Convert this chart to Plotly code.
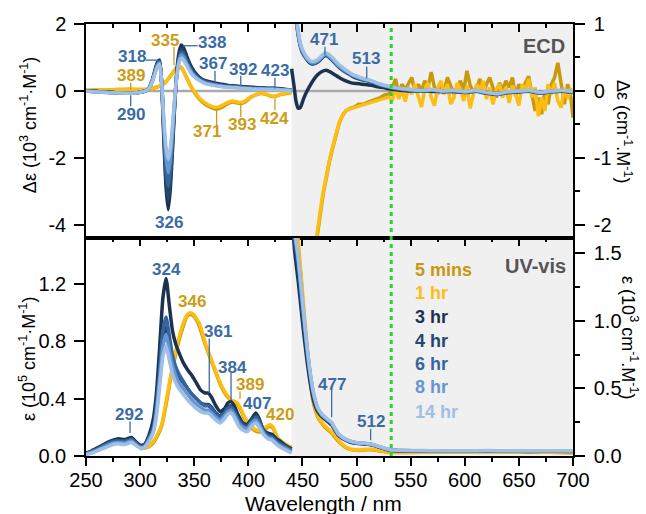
import plotly.graph_objects as go

FONT = "Liberation Sans, Arial, sans-serif"

# ---------------- series names & colours ----------------
series_names = ["5 mins", "1 hr", "3 hr", "4 hr", "6 hr", "8 hr", "14 hr"]
series_colors = ["#C9980E", "#FDBE12", "#1B3350", "#24476F", "#3565A0", "#6596D0", "#9EBFE6"]
BLUE_LBL = "#3A6BA5"
GOLD_LBL = "#CE9C14"

# ---------------- ECD, 250-440 nm (10^3 units, left axis) ----------------
ecd_wl_l = [250, 260, 270, 280, 290, 300, 305, 308, 311, 314, 316, 318, 320, 322, 324, 326, 328, 330, 332, 334,
            336, 338, 340, 343, 346, 350, 355, 360, 365, 370, 375, 380, 385, 390, 393, 397, 402, 407, 412, 417,
            421, 424, 428, 433, 440]
ecd_l_5min = [0.02, 0.03, 0.03, 0.04, 0.05, 0.04, 0.04, 0.05, 0.07, 0.1, 0.12, 0.14, 0.18, 0.22, 0.28, 0.36, 0.44, 0.53, 0.62, 0.7,
              0.74, 0.7, 0.6, 0.4, 0.19, -0.04, -0.25, -0.4, -0.49, -0.55, -0.5, -0.4, -0.33, -0.36, -0.38, -0.33, -0.2, -0.12, -0.08, -0.11,
              -0.16, -0.17, -0.13, -0.09, -0.05]
ecd_l_1hr = [0.02, 0.03, 0.03, 0.04, 0.05, 0.04, 0.04, 0.05, 0.07, 0.1, 0.12, 0.14, 0.18, 0.22, 0.28, 0.36, 0.44, 0.53, 0.62, 0.7,
             0.74, 0.7, 0.6, 0.4, 0.2, -0.02, -0.22, -0.36, -0.45, -0.5, -0.45, -0.36, -0.3, -0.33, -0.35, -0.3, -0.18, -0.11, -0.07, -0.1,
             -0.15, -0.16, -0.12, -0.08, -0.04]
ecd_l_3hr = [0.0, -0.02, -0.04, -0.06, -0.07, -0.04, 0.0, 0.08, 0.3, 0.65, 0.85, 0.92, 0.2, -1.5, -2.9, -3.55, -2.9, -1.7, -0.4, 0.6,
             1.15, 1.37, 1.3, 1.05, 0.8, 0.58, 0.4, 0.31, 0.27, 0.23, 0.2, 0.17, 0.15, 0.14, 0.13, 0.12, 0.11, 0.1, 0.09, 0.08,
             0.08, 0.08, 0.07, 0.05, 0.03]
ecd_l_4hr = [0.0, -0.02, -0.04, -0.06, -0.07, -0.04, 0.0, 0.07, 0.28, 0.62, 0.82, 0.9, 0.2, -1.35, -2.65, -3.25, -2.65, -1.55, -0.35, 0.55,
             1.05, 1.25, 1.19, 0.96, 0.74, 0.53, 0.37, 0.29, 0.25, 0.21, 0.18, 0.16, 0.14, 0.13, 0.12, 0.11, 0.1, 0.09, 0.08, 0.07,
             0.07, 0.07, 0.06, 0.04, 0.02]
ecd_l_6hr = [0.0, -0.02, -0.04, -0.06, -0.07, -0.04, 0.0, 0.07, 0.27, 0.6, 0.8, 0.87, 0.2, -1.2, -2.35, -2.85, -2.35, -1.4, -0.3, 0.5,
             0.97, 1.15, 1.1, 0.89, 0.68, 0.49, 0.35, 0.27, 0.22, 0.19, 0.16, 0.14, 0.12, 0.11, 0.1, 0.09, 0.08, 0.07, 0.07, 0.06,
             0.06, 0.06, 0.05, 0.03, 0.02]
ecd_l_8hr = [0.0, -0.03, -0.05, -0.06, -0.07, -0.04, 0.0, 0.06, 0.26, 0.57, 0.76, 0.83, 0.2, -1.05, -2.0, -2.45, -2.0, -1.2, -0.25, 0.47,
             0.9, 1.07, 1.02, 0.82, 0.63, 0.45, 0.32, 0.24, 0.2, 0.17, 0.14, 0.12, 0.11, 0.1, 0.09, 0.08, 0.07, 0.06, 0.06, 0.05,
             0.05, 0.05, 0.04, 0.03, 0.01]
ecd_l_14hr = [0.0, -0.03, -0.05, -0.06, -0.07, -0.04, 0.0, 0.06, 0.25, 0.55, 0.72, 0.8, 0.2, -0.9, -1.7, -2.05, -1.7, -1.0, -0.2, 0.45,
              0.85, 0.98, 0.93, 0.76, 0.58, 0.42, 0.3, 0.22, 0.18, 0.15, 0.13, 0.11, 0.1, 0.09, 0.08, 0.07, 0.06, 0.05, 0.05, 0.04,
              0.04, 0.04, 0.03, 0.02, 0.01]

# ---------------- ECD, 440-700 nm (right axis) ----------------
ecd_wl_r_gold = [440, 445, 450, 455, 460, 463, 466, 469, 472, 475, 478, 481, 484, 487, 490, 494, 498, 502, 506, 510,
                 514, 518, 522, 526, 530] + list(range(533, 699, 3)) + [700]
ecd_r_5min = [-6.2, -5.2, -4.2, -3.3, -2.6, -2.2, -1.9, -1.56, -1.28, -1.05, -0.85, -0.64, -0.48, -0.37, -0.3, -0.26, -0.24, -0.2, -0.2, -0.17,
              -0.15, -0.13, -0.1, -0.06, -0.05,
              0.05, 0.18, -0.05, 0.1, 0.02, 0.12, 0.2, -0.02, 0.1, 0.0, 0.15, 0.05, 0.28, 0.05, -0.05, 0.1, 0.0, 0.2, 0.08, -0.05,
              0.05, 0.15, 0.0, 0.3, 0.08, -0.02, 0.05, 0.18, -0.05, 0.1, 0.2, 0.05, -0.1, 0.12, 0.02, 0.15, 0.05, 0.2, -0.08, 0.1,
              0.0, 0.12, 0.22, -0.05, -0.3, -0.1, -0.35, 0.0, -0.2, 0.1, 0.2, 0.42, 0.1, -0.2, 0.1, -0.1, -0.4]
ecd_r_1hr = [-6.0, -5.0, -4.0, -3.2, -2.55, -2.15, -1.85, -1.52, -1.25, -1.03, -0.83, -0.63, -0.47, -0.36, -0.3, -0.27, -0.25, -0.22, -0.21, -0.19,
             -0.17, -0.15, -0.12, -0.1, -0.09,
             -0.15, 0.05, -0.12, 0.02, -0.16, 0.06, -0.05, 0.1, -0.08, -0.24, 0.02, 0.12, -0.1, -0.22, 0.05, 0.15, -0.05, 0.1, -0.2, -0.1,
             0.12, 0.02, -0.15, 0.08, -0.26, -0.05, 0.1, -0.02, 0.15, -0.12, 0.05, -0.2, 0.02, 0.1, -0.1, 0.05, -0.18, 0.08, -0.05, -0.22,
             0.1, 0.0, 0.18, -0.1, 0.05, -0.38, -0.1, -0.3, 0.1, -0.05, 0.12, -0.15, -0.25, 0.05, -0.12, 0.02, 0.0]
ecd_wl_r_3hr = [440, 442, 444, 446, 448, 451, 454, 457, 460, 464, 468, 472, 476, 480, 485, 490, 495, 500, 505, 510,
                515, 520, 525, 530, 535, 540, 550, 560, 570, 580, 590, 600, 610, 620, 630, 640, 650, 660, 670, 680, 690, 700]
ecd_r_3hr = [0.33, 0.1, -0.15, -0.26, -0.25, -0.12, -0.01, 0.08, 0.16, 0.24, 0.29, 0.31, 0.28, 0.24, 0.19, 0.15, 0.12, 0.11, 0.1, 0.09,
             0.08, 0.06, 0.05, 0.03, 0.02, 0.01, 0.0, 0.01, -0.01, 0.0, -0.01, -0.02, 0.0, -0.02, -0.04, -0.02, -0.01, 0.0, -0.02, -0.01,
             0.0, -0.02]
ecd_wl_r_blue = [440, 442, 444, 446, 448, 450, 453, 456, 459, 462, 465, 468, 471, 474, 478, 482, 487, 492, 497, 502,
                 507, 512, 517, 522, 527, 532, 537, 542, 550, 560, 570, 580, 590, 600, 610, 620, 630, 640, 650, 660,
                 670, 680, 690, 700]
ecd_r_4hr = [2.35, 1.66, 1.13, 0.84, 0.67, 0.57, 0.49, 0.43, 0.4, 0.41, 0.44, 0.49, 0.53, 0.51, 0.45, 0.38, 0.31, 0.26, 0.21, 0.18,
             0.16, 0.14, 0.11, 0.085, 0.065, 0.045, 0.03, 0.02, 0.005, -0.005, 0.005, -0.015, -0.005, -0.025, -0.005, -0.035, -0.055, -0.025, -0.015, -0.005,
             -0.035, -0.015, -0.005, -0.025]
ecd_r_6hr = [2.4, 1.7, 1.15, 0.85, 0.68, 0.58, 0.5, 0.44, 0.41, 0.42, 0.45, 0.5, 0.54, 0.52, 0.46, 0.39, 0.32, 0.27, 0.22, 0.19,
             0.17, 0.15, 0.12, 0.09, 0.07, 0.05, 0.035, 0.025, 0.01, 0.0, 0.01, -0.01, 0.0, -0.02, 0.0, -0.03, -0.05, -0.02, -0.01, 0.0,
             -0.03, -0.01, 0.0, -0.02]
ecd_r_8hr = [2.45, 1.75, 1.18, 0.87, 0.7, 0.6, 0.51, 0.45, 0.42, 0.43, 0.46, 0.51, 0.55, 0.53, 0.47, 0.4, 0.33, 0.28, 0.23, 0.2,
             0.175, 0.155, 0.125, 0.095, 0.075, 0.055, 0.04, 0.03, 0.015, 0.005, 0.015, -0.005, 0.005, -0.015, 0.005, -0.025, -0.045, -0.015, -0.005, 0.005,
             -0.025, -0.005, 0.005, -0.015]
ecd_r_14hr = [2.5, 1.8, 1.2, 0.9, 0.72, 0.62, 0.53, 0.47, 0.44, 0.45, 0.48, 0.53, 0.57, 0.55, 0.49, 0.42, 0.35, 0.29, 0.24, 0.21,
              0.18, 0.16, 0.13, 0.1, 0.08, 0.06, 0.045, 0.035, 0.02, 0.01, 0.02, 0.0, 0.01, -0.01, 0.01, -0.02, -0.04, -0.01, 0.0, 0.01,
              -0.02, 0.0, 0.01, -0.01]

# ---------------- UV-vis, 250-440 nm (10^5 units, left axis) ----------------
uv_wl_l = [250, 255, 260, 265, 270, 275, 280, 285, 288, 292, 296, 300, 304, 308, 312, 315, 318, 321, 324, 327,
           330, 333, 336, 340, 344, 348, 352, 356, 360, 363, 366, 370, 374, 378, 381, 384, 387, 391, 395, 399,
           403, 407, 410, 414, 418, 422, 426, 430, 435, 440]
uv_l_3hr = [0.02, 0.035, 0.055, 0.075, 0.095, 0.11, 0.12, 0.115, 0.12, 0.13, 0.1, 0.075, 0.08, 0.14, 0.25, 0.43, 0.75, 1.1, 1.24, 1.05,
            0.87, 0.78, 0.72, 0.65, 0.6, 0.56, 0.51, 0.46, 0.44, 0.44, 0.41, 0.35, 0.31, 0.33, 0.37, 0.38, 0.35, 0.28, 0.23, 0.22,
            0.26, 0.3, 0.26, 0.18, 0.16, 0.15, 0.12, 0.1, 0.07, 0.05]
uv_l_4hr = [0.018, 0.033, 0.05, 0.07, 0.09, 0.105, 0.11, 0.105, 0.11, 0.12, 0.095, 0.07, 0.075, 0.13, 0.2, 0.33, 0.56, 0.8, 0.9, 0.78,
            0.66, 0.6, 0.55, 0.51, 0.47, 0.43, 0.4, 0.37, 0.36, 0.36, 0.34, 0.3, 0.28, 0.31, 0.34, 0.35, 0.32, 0.26, 0.22, 0.21,
            0.25, 0.28, 0.25, 0.18, 0.15, 0.14, 0.11, 0.09, 0.06, 0.045]
uv_l_6hr = [0.015, 0.03, 0.045, 0.065, 0.085, 0.1, 0.105, 0.1, 0.105, 0.115, 0.09, 0.065, 0.07, 0.12, 0.19, 0.34, 0.6, 0.87, 0.97, 0.84,
            0.7, 0.62, 0.57, 0.52, 0.47, 0.43, 0.4, 0.37, 0.35, 0.35, 0.33, 0.29, 0.27, 0.3, 0.33, 0.34, 0.31, 0.25, 0.21, 0.2,
            0.24, 0.27, 0.24, 0.17, 0.14, 0.13, 0.1, 0.08, 0.06, 0.04]
uv_l_8hr = [0.012, 0.025, 0.04, 0.058, 0.075, 0.09, 0.095, 0.09, 0.095, 0.105, 0.08, 0.06, 0.065, 0.11, 0.17, 0.3, 0.53, 0.76, 0.85, 0.74,
            0.63, 0.56, 0.51, 0.47, 0.43, 0.39, 0.36, 0.34, 0.32, 0.32, 0.3, 0.27, 0.25, 0.28, 0.31, 0.32, 0.29, 0.23, 0.2, 0.19,
            0.23, 0.25, 0.22, 0.16, 0.13, 0.12, 0.09, 0.07, 0.05, 0.03]
uv_l_14hr = [0.01, 0.02, 0.035, 0.05, 0.065, 0.08, 0.085, 0.08, 0.085, 0.095, 0.075, 0.055, 0.06, 0.1, 0.16, 0.27, 0.48, 0.69, 0.77, 0.67,
             0.57, 0.51, 0.47, 0.43, 0.39, 0.36, 0.33, 0.31, 0.3, 0.3, 0.28, 0.25, 0.23, 0.26, 0.29, 0.3, 0.27, 0.21, 0.18, 0.17,
             0.21, 0.23, 0.2, 0.15, 0.12, 0.11, 0.08, 0.06, 0.04, 0.02]
uv_wl_l_gold = [300, 304, 308, 312, 316, 320, 324, 328, 332, 336, 340, 343, 346, 349, 352, 355, 358, 361, 364, 367,
                370, 373, 376, 380, 384, 387, 390, 393, 396, 400, 404, 408, 412, 416, 420, 423, 427, 431, 435, 440]
uv_l_5min = [0.05, 0.055, 0.065, 0.09, 0.14, 0.21, 0.36, 0.53, 0.68, 0.81, 0.91, 0.97, 0.99, 0.98, 0.95, 0.9, 0.83, 0.76, 0.7, 0.64,
             0.58, 0.52, 0.47, 0.42, 0.39, 0.38, 0.36, 0.32, 0.27, 0.22, 0.19, 0.17, 0.17, 0.19, 0.21, 0.19, 0.12, 0.09, 0.07, 0.05]
uv_l_1hr = [0.05, 0.06, 0.07, 0.1, 0.15, 0.22, 0.38, 0.55, 0.7, 0.83, 0.93, 0.98, 1.0, 0.99, 0.96, 0.92, 0.85, 0.77, 0.71, 0.65,
            0.59, 0.53, 0.48, 0.43, 0.39, 0.38, 0.37, 0.33, 0.28, 0.23, 0.2, 0.18, 0.18, 0.2, 0.22, 0.2, 0.13, 0.1, 0.08, 0.06]

# ---------------- UV-vis, 440-700 nm (10^3 units, right axis) ----------------
uv_wl_r = [440, 443, 446, 448, 451, 454, 457, 460, 464, 468, 471, 474, 477, 480, 483, 487, 491, 495, 500, 505,
           510, 514, 518, 522, 526, 531, 540, 560, 580, 600, 620, 640, 660, 680, 700]
uv_r_5min = [2.2, 1.8, 1.55, 1.38, 1.08, 0.8, 0.57, 0.4, 0.29, 0.24, 0.21, 0.19, 0.17, 0.14, 0.11, 0.08, 0.058, 0.047, 0.042, 0.042,
             0.046, 0.046, 0.042, 0.037, 0.032, 0.028, 0.026, 0.027, 0.029, 0.03, 0.032, 0.03, 0.029, 0.027, 0.024]
uv_r_1hr = [2.3, 1.85, 1.6, 1.42, 1.12, 0.84, 0.6, 0.42, 0.3, 0.25, 0.22, 0.2, 0.18, 0.15, 0.12, 0.085, 0.062, 0.05, 0.045, 0.045,
            0.05, 0.05, 0.045, 0.04, 0.035, 0.03, 0.028, 0.028, 0.03, 0.03, 0.031, 0.03, 0.03, 0.028, 0.025]
uv_r_3hr = [1.8, 1.5, 1.3, 1.15, 0.92, 0.72, 0.55, 0.42, 0.33, 0.29, 0.27, 0.25, 0.23, 0.19, 0.155, 0.13, 0.113, 0.1, 0.094, 0.09,
            0.087, 0.082, 0.073, 0.063, 0.053, 0.043, 0.038, 0.036, 0.035, 0.035, 0.036, 0.035, 0.034, 0.035, 0.034]
uv_r_4hr = [1.85, 1.56, 1.38, 1.22, 0.98, 0.77, 0.59, 0.45, 0.345, 0.3, 0.278, 0.258, 0.238, 0.198, 0.16, 0.133, 0.116, 0.103, 0.096, 0.093,
            0.089, 0.084, 0.075, 0.065, 0.054, 0.044, 0.039, 0.037, 0.036, 0.036, 0.037, 0.036, 0.035, 0.036, 0.035]
uv_r_6hr = [1.9, 1.62, 1.44, 1.28, 1.03, 0.8, 0.61, 0.46, 0.35, 0.3, 0.28, 0.26, 0.24, 0.2, 0.16, 0.135, 0.117, 0.105, 0.097, 0.094,
            0.09, 0.085, 0.076, 0.066, 0.055, 0.045, 0.04, 0.038, 0.037, 0.037, 0.038, 0.037, 0.036, 0.037, 0.036]
uv_r_8hr = [1.92, 1.64, 1.46, 1.3, 1.05, 0.82, 0.62, 0.47, 0.355, 0.305, 0.284, 0.264, 0.244, 0.204, 0.163, 0.137, 0.119, 0.107, 0.098, 0.095,
            0.091, 0.086, 0.077, 0.067, 0.056, 0.046, 0.041, 0.039, 0.038, 0.038, 0.039, 0.038, 0.037, 0.038, 0.037]
uv_r_14hr = [1.95, 1.66, 1.48, 1.32, 1.07, 0.83, 0.63, 0.48, 0.36, 0.31, 0.288, 0.268, 0.248, 0.207, 0.166, 0.139, 0.12, 0.108, 0.099, 0.096,
             0.092, 0.087, 0.078, 0.068, 0.057, 0.047, 0.042, 0.04, 0.039, 0.039, 0.04, 0.039, 0.038, 0.039, 0.038]

# ---------------- peak labels ----------------
ecd_labels = [  # text, x(nm), y(left axis), colour, leader (x0, y0, x1, y1) or None
    ("318", 292.2, 1.02, BLUE_LBL, (305.4, 0.92, 316.5, 0.92)),
    ("335", 323.0, 1.52, GOLD_LBL, (331.3, 1.31, 331.3, 0.77)),
    ("338", 366.2, 1.45, BLUE_LBL, (339.6, 1.35, 353.2, 1.35)),
    ("367", 367.6, 0.82, BLUE_LBL, (369.2, 0.60, 369.2, 0.29)),
    ("392", 395.4, 0.64, BLUE_LBL, (393.0, 0.45, 393.0, 0.14)),
    ("423", 424.6, 0.60, BLUE_LBL, (424.6, 0.39, 424.6, 0.07)),
    ("389", 291.3, 0.47, GOLD_LBL, (291.3, 0.24, 291.3, 0.04)),
    ("290", 291.3, -0.72, BLUE_LBL, (291.3, -0.13, 291.3, -0.46)),
    ("326", 327.0, -3.94, BLUE_LBL, None),
    ("371", 361.5, -1.22, GOLD_LBL, (370.7, -0.57, 370.7, -1.02)),
    ("393", 394.6, -1.02, GOLD_LBL, (393.0, -0.37, 393.0, -0.78)),
    ("424", 424.6, -0.82, GOLD_LBL, (424.6, -0.22, 424.6, -0.57)),
    ("471", 470.2, 1.55, BLUE_LBL, (470.8, 1.32, 470.8, 1.07)),
    ("513", 508.7, 0.97, BLUE_LBL, (509.4, 0.72, 509.4, 0.37)),
]
uv_labels = [
    ("324", 324.6, 1.30, BLUE_LBL, None),
    ("346", 347.7, 1.08, GOLD_LBL, None),
    ("361", 372.2, 0.87, BLUE_LBL, (363.9, 0.82, 363.9, 0.44)),
    ("384", 385.6, 0.62, BLUE_LBL, (384.0, 0.58, 384.0, 0.39)),
    ("389", 401.5, 0.50, GOLD_LBL, (392.3, 0.45, 392.3, 0.40)),
    ("407", 408.3, 0.37, BLUE_LBL, None),
    ("420", 429.3, 0.29, GOLD_LBL, None),
    ("292", 290.0, 0.29, BLUE_LBL, (290.7, 0.24, 290.7, 0.16)),
    ("477", 477.0, 0.50, BLUE_LBL, (477.0, 0.46, 477.0, 0.27)),
    ("512", 513.0, 0.24, BLUE_LBL, (513.0, 0.19, 513.0, 0.11)),
]
legend_y = [1.30, 1.138, 0.971, 0.803, 0.642, 0.482, 0.307]

# ---------------- build traces ----------------
fig = go.Figure()


def add(x, y, color, xa, ya, spline=True):
    assert len(x) == len(y), (len(x), len(y))
    line = dict(color=color, width=3.5)
    if spline:
        line.update(shape="spline", smoothing=0.5)
    fig.add_trace(go.Scatter(x=x, y=y, mode="lines", line=line, xaxis=xa, yaxis=ya,
                             showlegend=False, hoverinfo="skip"))


c5, c1, c3, c4, c6, c8, c14 = series_colors

# ECD left
add(ecd_wl_l, ecd_l_5min, c5, "x", "y")
add(ecd_wl_l, ecd_l_1hr, c1, "x", "y")
add(ecd_wl_l, ecd_l_3hr, c3, "x", "y")
add(ecd_wl_l, ecd_l_4hr, c4, "x", "y")
add(ecd_wl_l, ecd_l_6hr, c6, "x", "y")
add(ecd_wl_l, ecd_l_8hr, c8, "x", "y")
add(ecd_wl_l, ecd_l_14hr, c14, "x", "y")
# ECD right
add(ecd_wl_r_gold, ecd_r_5min, c5, "x", "y2", spline=False)
add(ecd_wl_r_gold, ecd_r_1hr, c1, "x", "y2", spline=False)
add(ecd_wl_r_3hr, ecd_r_3hr, c3, "x", "y2")
add(ecd_wl_r_blue, ecd_r_4hr, c4, "x", "y2")
add(ecd_wl_r_blue, ecd_r_6hr, c6, "x", "y2")
add(ecd_wl_r_blue, ecd_r_8hr, c8, "x", "y2")
add(ecd_wl_r_blue, ecd_r_14hr, c14, "x", "y2")
# UV left
add(uv_wl_l_gold, uv_l_5min, c5, "x2", "y3")
add(uv_wl_l_gold, uv_l_1hr, c1, "x2", "y3")
add(uv_wl_l, uv_l_3hr, c3, "x2", "y3")
add(uv_wl_l, uv_l_4hr, c4, "x2", "y3")
add(uv_wl_l, uv_l_6hr, c6, "x2", "y3")
add(uv_wl_l, uv_l_8hr, c8, "x2", "y3")
add(uv_wl_l, uv_l_14hr, c14, "x2", "y3")
# UV right
add(uv_wl_r, uv_r_5min, c5, "x2", "y4")
add(uv_wl_r, uv_r_1hr, c1, "x2", "y4")
add(uv_wl_r, uv_r_3hr, c3, "x2", "y4")
add(uv_wl_r, uv_r_4hr, c4, "x2", "y4")
add(uv_wl_r, uv_r_6hr, c6, "x2", "y4")
add(uv_wl_r, uv_r_8hr, c8, "x2", "y4")
add(uv_wl_r, uv_r_14hr, c14, "x2", "y4")
# dummy trace so the tick-only overlay axis exists
fig.add_trace(go.Scatter(x=[None], y=[None], xaxis="x3", yaxis="y3", showlegend=False, hoverinfo="skip"))

# ---------------- axes ----------------
SPLIT = 0.5046
TICKFONT = dict(family=FONT, size=20, color="black")
base = dict(showgrid=False, zeroline=False, linecolor="black", linewidth=1.5,
            tickcolor="black", tickwidth=1.5, tickfont=TICKFONT)
xr = [250, 700]
minor_x_in = dict(dtick=25, tick0=250, ticks="inside", ticklen=4, tickwidth=1.5, tickcolor="black")
minor_x_out = dict(dtick=25, tick0=250, ticks="outside", ticklen=4, tickwidth=1.5, tickcolor="black")

fig.update_layout(
    xaxis=dict(base, domain=[0, 1], anchor="y", range=xr, side="top", ticks="inside", ticklen=8,
               tick0=250, dtick=50, minor=minor_x_in, showticklabels=False, showline=True, mirror=True),
    xaxis2=dict(base, domain=[0, 1], anchor="y3", range=xr, side="bottom", ticks="outside", ticklen=8,
                tick0=250, dtick=50, minor=minor_x_out, showline=True, mirror=True, ticklabelstandoff=-3),
    xaxis3=dict(base, overlaying="x2", anchor="y3", range=xr, side="top", ticks="inside", ticklen=8,
                tick0=250, dtick=50, minor=minor_x_in, showticklabels=False, showline=False),
    yaxis=dict(base, domain=[SPLIT, 1], anchor="x", range=[-4.4, 2], side="left", ticks="outside", ticklen=10,
               tickmode="array", tickvals=[-4, -2, 0, 2], ticktext=["-4", "-2", "0", "2"],
               showline=True, ticklabelstandoff=4),
    yaxis2=dict(base, overlaying="y", anchor="x", range=[-2.2, 1], side="right", ticks="outside", ticklen=10,
                tickmode="array", tickvals=[-2, -1, 0, 1], ticktext=["-2", "-1", "0", "1"],
                minor=dict(tickmode="array", tickvals=[-1.5, -0.5, 0.5], ticks="outside", ticklen=5,
                           tickwidth=1.5, tickcolor="black"),
                showline=True, ticklabelstandoff=5),
    yaxis3=dict(base, domain=[0, SPLIT], anchor="x2", range=[0, 1.522], side="left", ticks="outside", ticklen=10,
                tick0=0, dtick=0.4, tickformat=".1f", showline=True, ticklabelstandoff=4),
    yaxis4=dict(base, overlaying="y3", anchor="x2", range=[0, 1.613], side="right", ticks="outside", ticklen=10,
                tick0=0, dtick=0.5, tickformat=".1f",
                minor=dict(dtick=0.25, tick0=0, ticks="outside", ticklen=5, tickwidth=1.5, tickcolor="black"),
                showline=True, ticklabelstandoff=5),
)

# ---------------- shapes ----------------
shapes = [
    dict(type="rect", xref="x", yref="paper", x0=440, x1=700, y0=0, y1=1,
         fillcolor="#F0F0F0", line=dict(width=0), layer="below"),
    dict(type="line", xref="x", yref="y", x0=250, x1=700, y0=0, y1=0,
         line=dict(color="#AAAAAA", width=2.5), layer="below"),
    dict(type="line", xref="x", yref="paper", x0=532, x1=532, y0=0, y1=1,
         line=dict(color="#2BD62B", width=3, dash="4px,4px"), layer="above"),
]
annotations = []
for txt, x, y, col, ld in ecd_labels:
    annotations.append(dict(text="<b>%s</b>" % txt, x=x, y=y, xref="x", yref="y", showarrow=False,
                            font=dict(family=FONT, size=17, color=col), xanchor="center", yanchor="middle"))
    if ld:
        shapes.append(dict(type="line", xref="x", yref="y", x0=ld[0], y0=ld[1], x1=ld[2], y1=ld[3],
                           line=dict(color=col, width=1.3)))
for txt, x, y, col, ld in uv_labels:
    annotations.append(dict(text="<b>%s</b>" % txt, x=x, y=y, xref="x2", yref="y3", showarrow=False,
                            font=dict(family=FONT, size=17, color=col), xanchor="center", yanchor="middle"))
    if ld:
        shapes.append(dict(type="line", xref="x2", yref="y3", x0=ld[0], y0=ld[1], x1=ld[2], y1=ld[3],
                           line=dict(color=col, width=1.3)))

# legend as coloured text
for name, col, yy in zip(series_names, series_colors, legend_y):
    annotations.append(dict(text="<b>%s</b>" % name, x=552.2, y=yy, xref="x2", yref="y3", showarrow=False,
                            font=dict(family=FONT, size=18, color=col), xanchor="left", yanchor="middle"))

annotations += [
    dict(text="<b>ECD</b>", x=694.5, y=1.34, xref="x", yref="y", showarrow=False,
         font=dict(family=FONT, size=20, color="#555555"), xanchor="right", yanchor="middle"),
    dict(text="<b>UV-vis</b>", x=695.4, y=1.33, xref="x2", yref="y3", showarrow=False,
         font=dict(family=FONT, size=20, color="#555555"), xanchor="right", yanchor="middle"),
    # axis titles
    dict(text="Δε (10<sup>3</sup> cm<sup>-1</sup>·M<sup>-1</sup>)", x=-0.119, y=0.766, xref="paper", yref="paper",
         showarrow=False, textangle=-90, font=dict(family=FONT, size=18, color="black"),
         xanchor="center", yanchor="middle"),
    dict(text="ε (10<sup>5</sup> cm<sup>-1</sup>·M<sup>-1</sup>)", x=-0.121, y=0.2245, xref="paper", yref="paper",
         showarrow=False, textangle=-90, font=dict(family=FONT, size=18, color="black"),
         xanchor="center", yanchor="middle"),
    dict(text="Δε (cm<sup>-1</sup>.M<sup>-1</sup>)", x=1.105, y=0.752, xref="paper", yref="paper",
         showarrow=False, textangle=90, font=dict(family=FONT, size=18, color="black"),
         xanchor="center", yanchor="middle"),
    dict(text="ε (10<sup>3</sup> cm<sup>-1</sup>.M<sup>-1</sup>)", x=1.117, y=0.273, xref="paper", yref="paper",
         showarrow=False, textangle=90, font=dict(family=FONT, size=18, color="black"),
         xanchor="center", yanchor="middle"),
    dict(text="Wavelength / nm", x=0.4877, y=-0.111, xref="paper", yref="paper",
         showarrow=False, font=dict(family=FONT, size=21, color="black"),
         xanchor="center", yanchor="middle"),
]

fig.update_layout(
    width=646, height=514,
    margin=dict(l=86, r=73, t=24, b=58, pad=0),
    paper_bgcolor="white", plot_bgcolor="white",
    shapes=shapes, annotations=annotations,
    font=dict(family=FONT, color="black"),
    showlegend=False,
)

fig.write_html("out.html")
